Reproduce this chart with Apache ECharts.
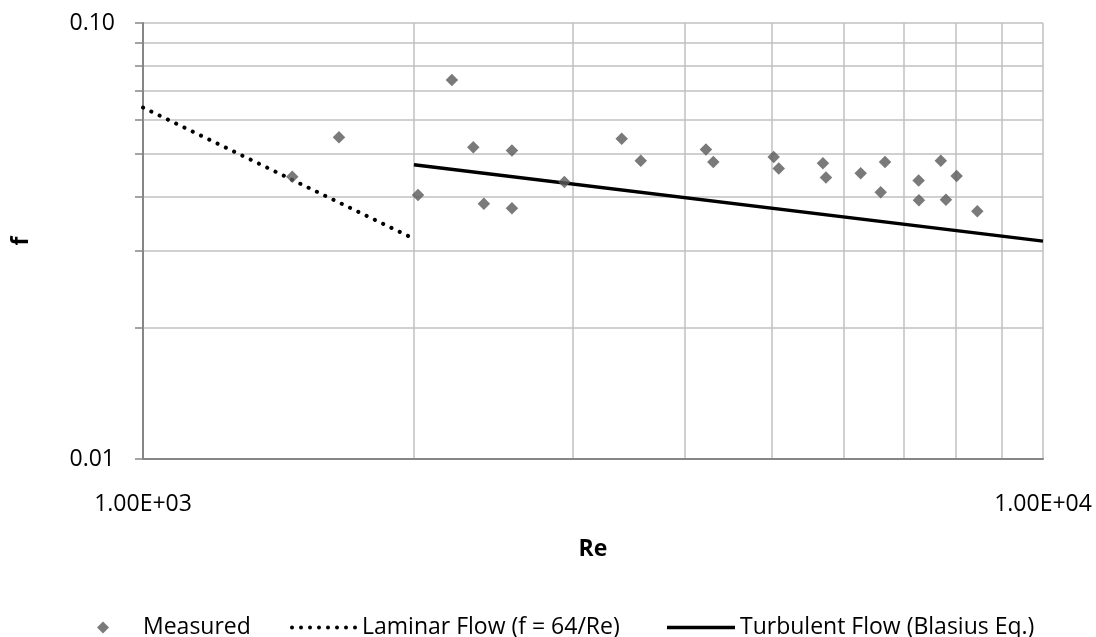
<!DOCTYPE html>
<html>
<head>
<meta charset="utf-8">
<script src="https://cdn.jsdelivr.net/npm/echarts@6/dist/echarts.min.js"></script>
<style>html,body{margin:0;padding:0;background:#fff}#c{width:1096px;height:637px}</style>
</head>
<body>
<div id="c"></div>
<script>
// Measured points: Reynolds number and friction factor
const measuredRe = [1465, 1651, 2204, 2021, 2328, 2392, 2570, 2570, 2939, 3403, 3573, 4222, 4302, 5021, 5086, 5695, 5739, 6272, 6602, 6675, 7275, 7280, 7700, 7801, 8017, 8453];
const measuredF  = [0.0444, 0.0547, 0.0740, 0.0403, 0.0519, 0.0385, 0.0510, 0.0376, 0.0432, 0.0543, 0.0483, 0.0513, 0.0480, 0.0493, 0.0464, 0.0477, 0.0442, 0.0452, 0.0409, 0.0480, 0.0435, 0.0392, 0.0483, 0.0393, 0.0446, 0.0370];
// Laminar line endpoints (f = 64/Re)
const laminarRe = [1000, 2000];
const laminarF  = [0.064, 0.032];
// Turbulent line endpoints (Blasius)
const turbRe = [2000, 10000];
const turbF  = [0.0473, 0.0316];
// Gridline / tick values
const xGrid = [1000, 2000, 3000, 4000, 5000, 6000, 7000, 8000, 9000, 10000];
const yGrid = [0.01, 0.02, 0.03, 0.04, 0.05, 0.06, 0.07, 0.08, 0.09, 0.1];
const xLabels = [1000, 10000];
const yLabels = [0.01, 0.1];
const names = ['Measured', 'Laminar Flow (f = 64/Re)', 'Turbulent Flow (Blasius Eq.)'];

const FONT = 'Open Sans';
const FS = 23;
const zip = (a, b) => a.map((v, i) => [v, b[i]]);
const fmtX = v => { const e = Math.round(Math.log10(v)); return (v / Math.pow(10, e)).toFixed(2) + 'E+' + String(e).padStart(2, '0'); };

// legend icon shapes (drawn shapes only)
let dots = '';
for (let i = 0; i < 8; i++) { const cx = 2 + i * 9; dots += `M${cx - 2},2 a2,2 0 1,0 4,0 a2,2 0 1,0 -4,0 `; }
const dotIcon = 'path://' + dots;
const solidIcon = 'path://M0,0 L68,0 L68,3.5 L0,3.5 Z';

const txt = {fontFamily: FONT, fontSize: FS, color: '#000'};
const LEG_TOP = 611;

const chart = echarts.init(document.getElementById('c'), null, {renderer: 'canvas'});
chart.setOption({
  animation: false,
  backgroundColor: '#ffffff',
  textStyle: {fontFamily: FONT, color: '#000'},
  grid: {left: 143, right: 53, top: 23, bottom: 178, containLabel: false},
  xAxis: {
    type: 'log', logBase: 10, min: 1000, max: 10000,
    name: 'Re', nameLocation: 'middle', nameGap: 79,
    nameTextStyle: Object.assign({}, txt, {fontWeight: 'bold'}),
    axisLine: {show: true, lineStyle: {color: '#868686', width: 2}},
    axisTick: {show: false, customValues: xGrid},
    splitLine: {show: true, lineStyle: {color: '#C0C0C0', width: 1.5}},
    axisLabel: Object.assign({formatter: fmtX, margin: 34, customValues: xLabels}, txt)
  },
  yAxis: {
    type: 'log', logBase: 10, min: 0.01, max: 0.1,
    name: 'f', nameLocation: 'middle', nameGap: 110,
    nameTextStyle: Object.assign({}, txt, {fontWeight: 'bold'}),
    axisLine: {show: true, lineStyle: {color: '#868686', width: 2}},
    axisTick: {show: true, length: 8, customValues: yGrid, lineStyle: {color: '#868686', width: 1.5}},
    splitLine: {show: true, lineStyle: {color: '#C0C0C0', width: 1.5}},
    axisLabel: Object.assign({formatter: v => v.toFixed(2), margin: 28, customValues: yLabels}, txt)
  },
  legend: [
    {data: [{name: names[0], icon: 'diamond'}], left: 92, top: LEG_TOP, itemWidth: 12, itemHeight: 12,
     itemStyle: {color: '#595959'},
     textStyle: Object.assign({padding: [0, 0, 0, 29]}, txt)},
    {data: [{name: names[1], icon: dotIcon}], left: 285, top: LEG_TOP, itemWidth: 67, itemHeight: 4,
     itemStyle: {color: '#000'},
     textStyle: txt},
    {data: [{name: names[2], icon: solidIcon}], left: 662, top: LEG_TOP, itemWidth: 68, itemHeight: 3.5,
     itemStyle: {color: '#000'},
     textStyle: txt}
  ],
  series: [
    {
      name: names[0], type: 'scatter', z: 5,
      symbol: 'diamond', symbolSize: 12.5,
      itemStyle: {color: '#595959'},
      data: zip(measuredRe, measuredF)
    },
    {
      name: names[1], type: 'line', z: 4, symbol: 'none',
      lineStyle: {color: '#000', width: 4, type: [0.1, 9.1], cap: 'round'},
      itemStyle: {color: '#000'},
      data: zip(laminarRe, laminarF)
    },
    {
      name: names[2], type: 'line', z: 4, symbol: 'none',
      lineStyle: {color: '#000', width: 3.5},
      itemStyle: {color: '#000'},
      data: zip(turbRe, turbF)
    }
  ]
});
</script>
</body>
</html>
